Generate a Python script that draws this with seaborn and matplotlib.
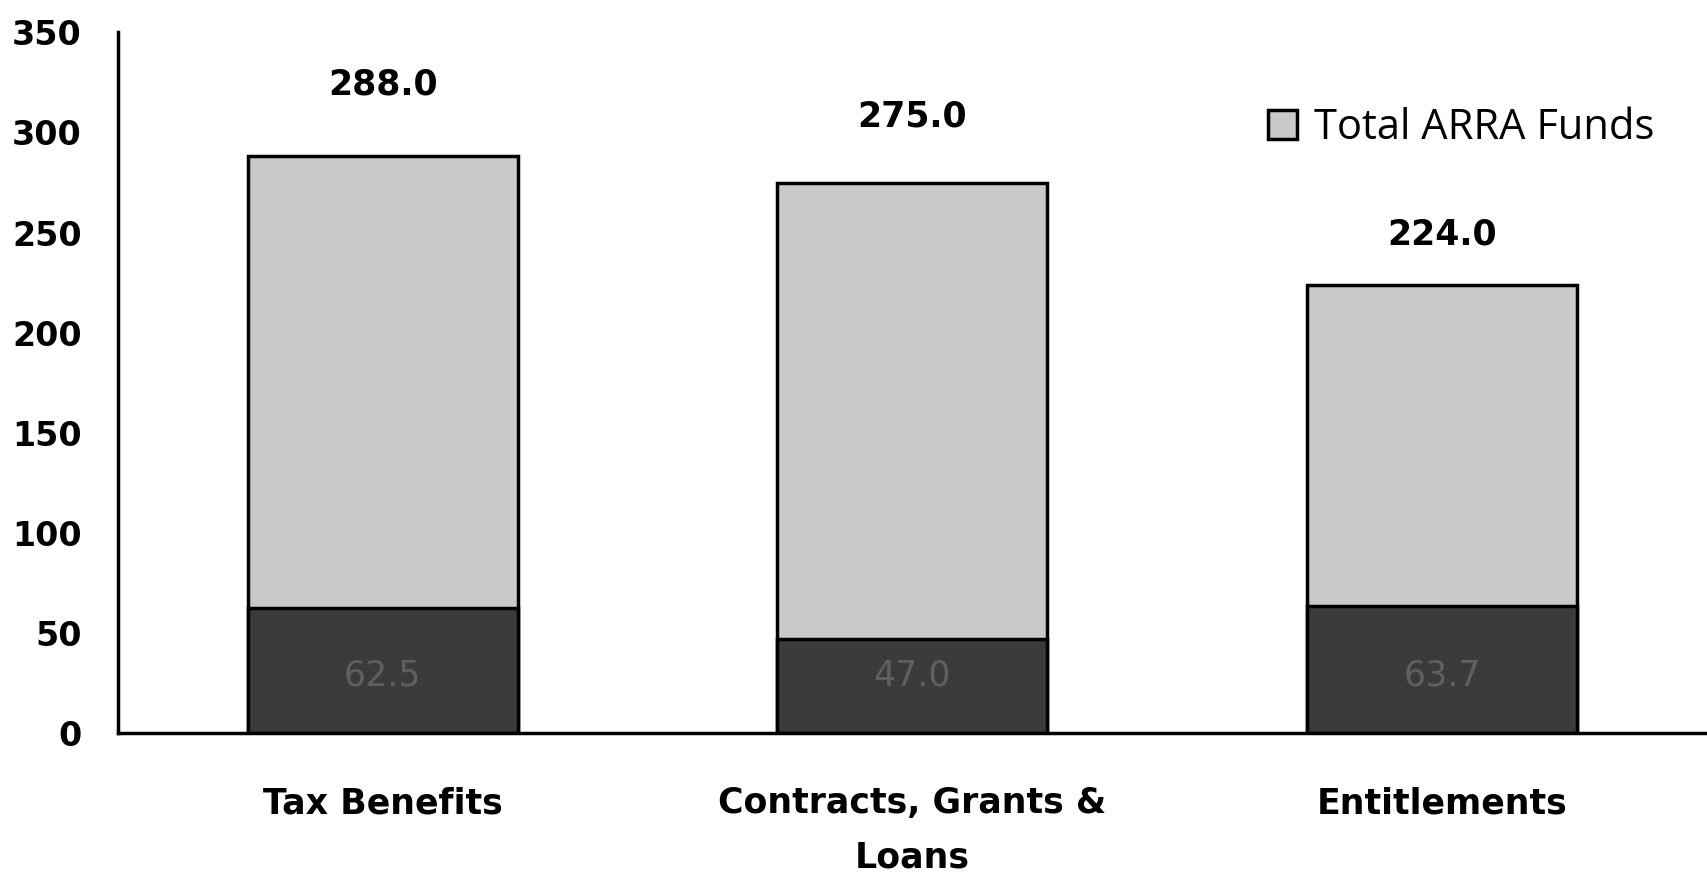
import matplotlib
matplotlib.use("Agg")
import matplotlib.pyplot as plt
import seaborn as sns
import pandas as pd

# ---------------------------
# Data
# ---------------------------
categories = ["Tax Benefits", "Contracts, Grants &\nLoans", "Entitlements"]
total_funds = [288.0, 275.0, 224.0]
inner_funds = [62.5, 47.0, 63.7]
yticks = [0, 50, 100, 150, 200, 250, 300, 350]

df = pd.DataFrame({"category": categories, "total": total_funds, "inner": inner_funds})

sns.set_theme(style="white")
plt.rcParams["font.family"] = ["DejaVu Sans"]

fig = plt.figure(figsize=(17.07, 8.73), dpi=100)
ax = fig.add_axes([0.069, 0.160, 0.931, 0.803])

# light total bars, dark inner bars on top
sns.barplot(data=df, x="category", y="total", color="#c9c9c9", width=0.51,
            edgecolor="black", linewidth=2.5, saturation=1, ax=ax,
            label="Total ARRA Funds")
sns.barplot(data=df, x="category", y="inner", color="#3b3b3b", width=0.51,
            edgecolor="black", linewidth=2.5, saturation=1, ax=ax)
handles, labels = ax.get_legend_handles_labels()
if ax.get_legend() is not None:
    ax.get_legend().remove()

# value labels
label_offsets = [36, 33, 25]
for i, (tot, off) in enumerate(zip(total_funds, label_offsets)):
    ax.text(i, tot + off, f"{tot:.1f}", ha="center", va="center",
            fontsize=25, fontweight="bold", color="black")
for i, val in enumerate(inner_funds):
    ax.text(i, 29, f"{val:.1f}", ha="center", va="center",
            fontsize=25, color="#606060")

ax.set_xlim(-0.5, 2.5)
ax.set_ylim(0, 350)
ax.set_yticks(yticks)
ax.set_yticklabels([str(t) for t in yticks], fontsize=24, fontweight="bold",
                   color="black")
ax.set_xticks(range(len(categories)))
ax.set_xticklabels(categories, fontsize=25, fontweight="bold", color="black",
                   linespacing=1.75)
ax.tick_params(axis="y", length=0, pad=26)
ax.tick_params(axis="x", length=0, pad=38)
ax.set_xlabel("")
ax.set_ylabel("")

for side in ["top", "right"]:
    ax.spines[side].set_visible(False)
for side in ["left", "bottom"]:
    ax.spines[side].set_color("black")
    ax.spines[side].set_linewidth(2.5)

leg = fig.legend(handles[:1], ["Total ARRA Funds"], loc="upper left",
                 bbox_to_anchor=(0.721, 0.92), frameon=False,
                 prop={"family": "Open Sans", "size": 30},
                 labelcolor="black",
                 handlelength=0.7, handleheight=0.7, handletextpad=0.4)

fig.savefig("out.png", dpi=100)
